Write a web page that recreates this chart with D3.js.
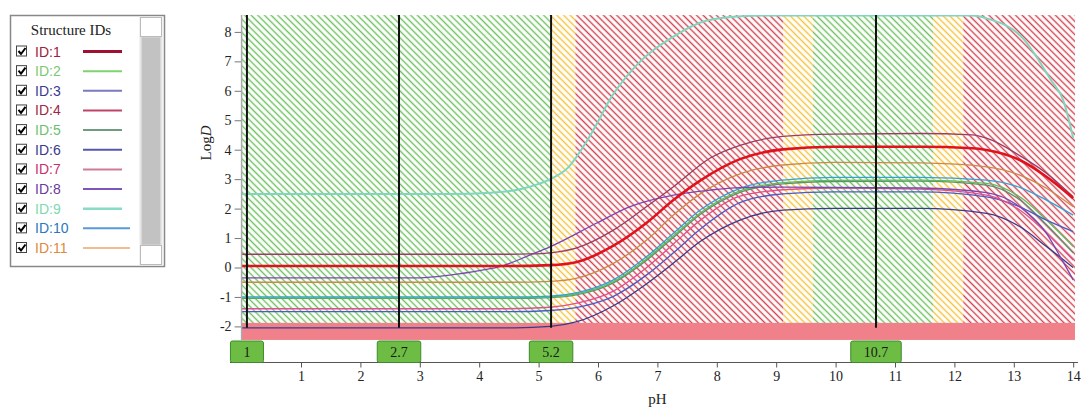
<!DOCTYPE html>
<html>
<head>
<meta charset="utf-8">
<script src="https://cdn.jsdelivr.net/npm/d3@7"></script>
<style>
body{margin:0;background:#fff;}
svg{display:block;}
</style>
</head>
<body>
<svg id="chart" width="1082" height="408"></svg>
<script>
// structure ids shown in the legend
var ids = ["ID:1","ID:2","ID:3","ID:4","ID:5","ID:6","ID:7","ID:8","ID:9","ID:10","ID:11"];

// logD profiles, [pH, logD] pairs
var id1 = [[0,0.05],[4.5,0.05],[5.2,0.08],[5.63,0.18],[6.26,0.74],[6.82,1.52],[7.27,2.29],[7.72,2.95],[8.39,3.68],[9.11,4.01],[9.96,4.1],[11.42,4.1],[12.3,4.05],[12.54,3.99],[13.1,3.65],[13.55,3.08],[14,2.35]];
var id2 = [[0,-1.03],[4.5,-1.03],[5.2,-1.0],[5.63,-0.9],[6.26,-0.48],[6.82,0.3],[7.27,1.08],[7.72,1.85],[8.39,2.6],[9.11,2.88],[9.96,2.96],[11.42,2.97],[12.54,2.86],[13.1,2.4],[13.55,1.61],[14,0.71]];
var id3 = [[0,-1.5],[4.5,-1.5],[5.2,-1.46],[5.63,-1.36],[6.26,-0.98],[6.82,-0.25],[7.27,0.5],[7.72,1.3],[8.39,2.2],[9.11,2.5],[9.96,2.57],[11.42,2.57],[12.54,2.4],[13.1,2.06],[13.55,1.61],[14,1.22]];
var id4 = [[0,0.45],[4.5,0.45],[4.85,0.46],[5.2,0.5],[5.63,0.66],[6.26,1.27],[6.82,2.07],[7.27,2.74],[7.89,3.72],[8.39,4.15],[9.11,4.45],[9.96,4.53],[11.42,4.55],[12.3,4.5],[12.54,4.39],[13.1,3.8],[13.55,3.2],[14,2.4]];
var id5 = [[0,-1.05],[4.5,-1.05],[5.2,-1.02],[5.63,-0.93],[6.26,-0.52],[6.82,0.25],[7.27,1.02],[7.72,1.8],[8.39,2.55],[9.11,2.84],[9.96,2.92],[11.42,2.93],[12.54,2.8],[13.1,2.3],[13.55,1.45],[14,0.5]];
var id6 = [[0,-2.05],[4.6,-2.05],[5.2,-2.0],[5.63,-1.85],[6.26,-1.3],[6.82,-0.55],[7.27,0.15],[7.72,0.88],[8.39,1.61],[9.11,1.95],[9.96,2.01],[11.42,2.01],[12.54,1.84],[13.1,1.39],[13.55,0.71],[14,0.0]];
var id7 = [[0,-1.4],[4.5,-1.4],[5.2,-1.35],[5.63,-1.22],[6.26,-0.8],[6.82,0.0],[7.27,0.8],[7.72,1.6],[8.39,2.42],[9.11,2.64],[9.96,2.7],[11.42,2.66],[12.54,2.46],[13.1,1.95],[13.55,1.17],[14,0.25]];
var id8 = [[0,-0.35],[3,-0.35],[3.5,-0.26],[4.07,-0.08],[4.35,0.03],[4.85,0.42],[5.2,0.71],[5.98,1.51],[6.54,2.07],[7.27,2.46],[7.89,2.63],[8.39,2.71],[9.11,2.73],[11.42,2.7],[12.54,2.54],[13.1,2.06],[13.55,1.16],[13.8,0.3],[14,-0.42]];
var id9 = [[0,2.5],[3.5,2.5],[4.2,2.54],[4.6,2.62],[4.85,2.74],[5.2,3.0],[5.5,3.4],[5.8,4.25],[6.04,5.1],[6.17,5.6],[6.63,6.83],[7.23,7.79],[7.82,8.38],[8.41,8.53],[9,8.56],[12.3,8.56],[12.56,8.45],[13.15,7.79],[13.63,6.35],[13.83,5.69],[14,4.4]];
var id10 = [[0,-1.0],[4.5,-1.0],[5.2,-0.97],[5.63,-0.86],[6.26,-0.42],[6.82,0.37],[7.27,1.16],[7.72,1.95],[8.39,2.69],[9.11,2.97],[9.96,3.06],[11.42,3.06],[12.54,2.97],[13.1,2.72],[13.55,2.29],[14,1.78]];
var id11 = [[0,-0.5],[4.5,-0.5],[5.2,-0.47],[5.63,-0.37],[6.26,0.14],[6.82,0.93],[7.27,1.78],[7.72,2.5],[8.39,3.18],[9.11,3.48],[9.96,3.57],[11.42,3.55],[12.54,3.42],[13.1,3.14],[13.55,2.69],[14,2.06]];
var series = [id1,id2,id3,id4,id5,id6,id7,id8,id9,id10,id11];

// background pH zones
var zoneFrom = [0, 5.2, 5.62, 9.12, 9.62, 11.64, 12.15];
var zoneTo   = [5.2, 5.62, 9.12, 9.62, 11.64, 12.15, 14.03];
var zoneKind = ["good","mid","bad","mid","good","mid","bad"];

// pKa markers
var markerPH = [0.09, 2.65, 5.21, 10.68];
var markerLabels = ["1","2.7","5.2","10.7"];

var xTicks = [1,2,3,4,5,6,7,8,9,10,11,12,13,14];
var yTicks = [-2,-1,0,1,2,3,4,5,6,7,8];
var bandLogD = [-2.46, -1.88];
var yTop = 8.57;

// colours
var lineColors = ["#e0121c","#5cbf5c","#4a5ac8","#9a3c66","#5f8f6f","#3a3a8a","#e0508c","#7d44b4","#7fd6bf","#2fa3d6","#cc8844"];
var legendLineColors = ["#a01030","#7ed36e","#7a7ac0","#c04468","#6d9c80","#5656b0","#d07a9a","#7c56b8","#88dcc6","#5a98dc","#f0bc90"];
var legendTextColors = ["#a0203a","#7cc870","#3a3a90","#a02844","#6cbf6c","#3a3a8c","#c8306c","#6a3a9c","#80d8b0","#2a78c0","#e08a3c"];
var hatchColors = {good:"#6cc05e", mid:"#f5c238", bad:"#d2404e"};

var svg = d3.select("#chart");
var serif = "'Liberation Serif','Times New Roman',serif";
var sans = "'Liberation Sans',Arial,sans-serif";

var x = d3.scaleLinear().domain([0,14]).range([241.6,1073.2]);
var y = d3.scaleLinear().domain([-2,8]).range([326.4,31.9]);

var plotL = x(0), plotR = x(14.03), plotT = y(yTop), plotB = y(bandLogD[0]);

// hatch patterns
var defs = svg.append("defs");
Object.keys(hatchColors).forEach(function(k){
	var p = defs.append("pattern")
		.attr("id","hatch_"+k)
		.attr("patternUnits","userSpaceOnUse")
		.attr("width",4.7).attr("height",4.7)
		.attr("patternTransform","rotate(-45)");
	p.append("line")
		.attr("x1",2.35).attr("x2",2.35).attr("y1",-1).attr("y2",6)
		.attr("stroke",hatchColors[k]).attr("stroke-width",1.4);
});
defs.append("clipPath").attr("id","plotClip")
	.append("rect").attr("x",plotL).attr("y",plotT).attr("width",plotR-plotL).attr("height",plotB-plotT);

// zones
svg.append("g").selectAll("rect").data(zoneFrom).enter().append("rect")
	.attr("x",function(d){return x(d);})
	.attr("y",plotT)
	.attr("width",function(d,i){return x(zoneTo[i]) - x(d);})
	.attr("height",y(bandLogD[1]) - plotT + 1)
	.attr("fill",function(d,i){return "url(#hatch_"+zoneKind[i]+")";});

// pink band
svg.append("rect")
	.attr("x",plotL).attr("y",y(bandLogD[1]))
	.attr("width",plotR-plotL).attr("height",y(bandLogD[0]) - y(bandLogD[1]))
	.attr("fill","#f0808a");

// curves
var line = d3.line()
	.x(function(d){return x(d[0]);})
	.y(function(d){return y(d[1]);})
	.curve(d3.curveMonotoneX);
var order = [4,1,2,5,6,9,10,7,3,8,0];
svg.append("g").attr("clip-path","url(#plotClip)")
	.selectAll("path").data(order).enter().append("path")
	.attr("d",function(i){return line(series[i]);})
	.attr("fill","none")
	.attr("stroke",function(i){return lineColors[i];})
	.attr("stroke-width",function(i){return i==0 ? 2.6 : (i==8 ? 2 : 1.3);});

// marker lines
svg.append("g").selectAll("line").data(markerPH).enter().append("line")
	.attr("x1",function(d){return x(d);}).attr("x2",function(d){return x(d);})
	.attr("y1",plotT).attr("y2",y(-2.05))
	.attr("stroke","#111").attr("stroke-width",2);

// y axis
var yAxis = svg.append("g").attr("transform","translate("+plotL+",0)")
	.call(d3.axisLeft(y).tickValues(yTicks).tickSize(7).tickPadding(3).tickFormat(function(d){return String(d);}));
yAxis.select(".domain").remove();
yAxis.selectAll(".tick line").attr("stroke","#777");
yAxis.selectAll("text").attr("font-family",serif).attr("font-size",14).attr("fill","#222");
svg.append("line").attr("x1",plotL).attr("x2",plotL).attr("y1",plotT).attr("y2",plotB)
	.attr("stroke","#aaa").attr("stroke-width",1.5);

// x axis
var axisY = 362.5;
var xAxis = svg.append("g").attr("transform","translate(0,"+axisY+")")
	.call(d3.axisBottom(x).tickValues(xTicks).tickSize(5).tickPadding(4).tickFormat(function(d){return String(d);}));
xAxis.select(".domain").remove();
xAxis.selectAll(".tick line").attr("stroke","#555");
xAxis.selectAll("text").attr("font-family",serif).attr("font-size",14).attr("fill","#222");
svg.append("line").attr("x1",230).attr("x2",1078).attr("y1",axisY).attr("y2",axisY)
	.attr("stroke","#555").attr("stroke-width",1);

// marker label boxes
var mk = svg.append("g").selectAll("g").data(markerPH).enter().append("g");
mk.append("text")
	.attr("x",function(d){return x(d);}).attr("y",357)
	.attr("text-anchor","middle")
	.attr("font-family",serif).attr("font-size",14).attr("fill","#1a1a1a")
	.text(function(d,i){return markerLabels[i];});
mk.each(function(d){
	var g = d3.select(this);
	var w = g.select("text").node().getComputedTextLength() + 26;
	g.insert("rect","text")
		.attr("x",x(d) - w/2).attr("y",341)
		.attr("width",w).attr("height",axisY-341)
		.attr("rx",2)
		.attr("fill","#6dbd45").attr("stroke","#3e8a2c").attr("stroke-width",1);
});

// axis titles
svg.append("text").attr("x",(x(0)+x(14))/2).attr("y",404)
	.attr("text-anchor","middle").attr("font-family",serif).attr("font-size",15).attr("fill","#222")
	.text("pH");
var yl = svg.append("text").attr("transform","translate(211,143) rotate(-90)")
	.attr("text-anchor","middle").attr("font-family",serif).attr("font-size",15).attr("fill","#222");
yl.append("tspan").text("Log");
yl.append("tspan").attr("font-style","italic").text("D");

// legend
var lg = svg.append("g");
lg.append("rect").attr("x",10.5).attr("y",15.5).attr("width",154).attr("height",251)
	.attr("fill","#fff").attr("stroke","#888").attr("stroke-width",1.5);
// scrollbar
lg.append("rect").attr("x",139.5).attr("y",16.5).attr("width",23).attr("height",249).attr("fill","#e6e6e6");
lg.append("rect").attr("x",141.5).attr("y",37).attr("width",19).attr("height",208).attr("fill","#c2c2c2").attr("stroke","#d8d8d8");
lg.append("rect").attr("x",140.5).attr("y",17.5).attr("width",21).attr("height",19).attr("fill","#fff").attr("stroke","#bbb");
lg.append("rect").attr("x",140.5).attr("y",245.5).attr("width",21).attr("height",19).attr("fill","#fff").attr("stroke","#bbb");
lg.append("text").attr("x",71).attr("y",35).attr("text-anchor","middle")
	.attr("font-family",serif).attr("font-size",15).attr("fill","#222").text("Structure IDs");

var rows = lg.selectAll("g.row").data(ids).enter().append("g").attr("class","row")
	.attr("transform",function(d,i){return "translate(0,"+(51.5 + 19.65*i)+")";});
rows.append("rect").attr("x",16.5).attr("y",-5.5).attr("width",10).attr("height",10)
	.attr("fill","#fff").attr("stroke","#444").attr("stroke-width",1);
rows.append("path").attr("d","M18.5,-0.5 L21,2.5 L25.5,-3.5")
	.attr("fill","none").attr("stroke","#000").attr("stroke-width",2);
rows.append("text").attr("x",35).attr("y",5)
	.attr("font-family",sans).attr("font-size",14)
	.attr("fill",function(d,i){return legendTextColors[i];})
	.text(function(d){return d;});
rows.append("line").attr("x1",83)
	.attr("x2",function(d){return d.length > 4 ? 130 : 122;})
	.attr("y1",0).attr("y2",0)
	.attr("stroke",function(d,i){return legendLineColors[i];})
	.attr("stroke-width",function(d,i){return i==0 ? 3 : (i==8 ? 2.6 : 2);});
</script>
</body>
</html>
